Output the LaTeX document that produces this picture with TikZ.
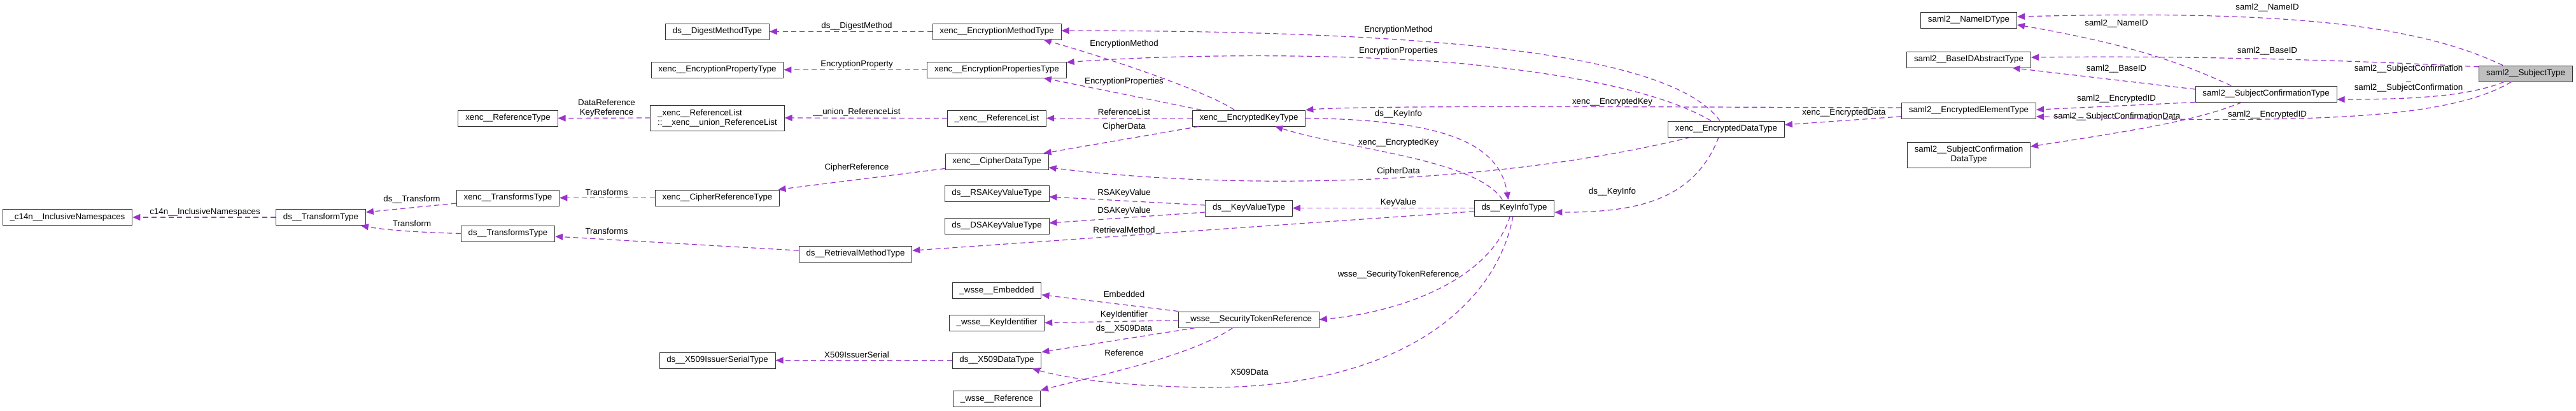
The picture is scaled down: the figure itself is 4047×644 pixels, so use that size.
\documentclass[tikz,border=0pt]{standalone}
\usepackage{fontspec}
\setmainfont{Liberation Sans}
\usetikzlibrary{arrows.meta}
\definecolor{orchid}{HTML}{9A32CD}
\tikzstyle{cls} = [draw=black!80,line width=0.75pt,fill=white,minimum height=18.75pt,inner xsep=8.5pt,inner ysep=1pt,font=\fontsize{10}{11.25}\selectfont]
\tikzstyle{focus} = [cls,fill=black!25]
\tikzstyle{member} = [orchid,line width=0.9pt,dash pattern=on 6pt off 4pt,-{Triangle[length=9pt,width=7.5pt]}]
\tikzstyle{lbl} = [black,font=\fontsize{10}{11.25}\selectfont,inner sep=0pt,align=center]

\begin{document}
\begin{tikzpicture}[x=0.75pt,y=-0.75pt]
            \useasboundingbox (0,0) rectangle (4047,644);
            % classes
            \node[cls] (c14n) at (106,341) {\_c14n\_\_InclusiveNamespaces};
            \node[cls] (dsTransform) at (504,341) {ds\_\_TransformType};
            \node[cls] (xencRefType) at (798,185.5) {xenc\_\_ReferenceType};
            \node[cls] (xencTransforms) at (798,310.5) {xenc\_\_TransformsType};
            \node[cls] (dsTransforms) at (798,366.5) {ds\_\_TransformsType};
            \node[cls] (dsDigest) at (1127,49.5) {ds\_\_DigestMethodType};
            \node[cls] (xencEncProp) at (1127,109.5) {xenc\_\_EncryptionPropertyType};
            \node[cls,align=left,minimum height=30pt] (unionRefList) at (1127,185) {\_xenc\_\_ReferenceList\\::\_\_xenc\_\_union\_ReferenceList};
            \node[cls] (xencCipherRef) at (1127,310.5) {xenc\_\_CipherReferenceType};
            \node[cls] (dsIssuer) at (1127,565.5) {ds\_\_X509IssuerSerialType};
            \node[cls] (xencEncMethod) at (1566,49.5) {xenc\_\_EncryptionMethodType};
            \node[cls] (xencEncProps) at (1566,109.5) {xenc\_\_EncryptionPropertiesType};
            \node[cls] (xencRefList) at (1566,185.5) {\_xenc\_\_ReferenceList};
            \node[cls] (xencCipherData) at (1566,253.5) {xenc\_\_CipherDataType};
            \node[cls] (dsRSA) at (1566,303.5) {ds\_\_RSAKeyValueType};
            \node[cls] (dsDSA) at (1566,354.5) {ds\_\_DSAKeyValueType};
            \node[cls] (dsRetrieval) at (1344,398.5) {ds\_\_RetrievalMethodType};
            \node[cls] (wsseEmbedded) at (1566,456) {\_wsse\_\_Embedded};
            \node[cls] (wsseKeyId) at (1566,506.5) {\_wsse\_\_KeyIdentifier};
            \node[cls] (dsX509) at (1566,565.5) {ds\_\_X509DataType};
            \node[cls] (wsseRef) at (1566,625.5) {\_wsse\_\_Reference};
            \node[cls] (xencEncKey) at (1962,185.5) {xenc\_\_EncryptedKeyType};
            \node[cls] (dsKeyValue) at (1962,326.5) {ds\_\_KeyValueType};
            \node[cls] (wsseSTR) at (1962,501.5) {\_wsse\_\_SecurityTokenReference};
            \node[cls] (dsKeyInfo) at (2379,326.5) {ds\_\_KeyInfoType};
            \node[cls] (xencEncData) at (2712,202.5) {xenc\_\_EncryptedDataType};
            \node[cls] (samlNameID) at (3093,31.5) {saml2\_\_NameIDType};
            \node[cls] (samlBaseID) at (3093,93.5) {saml2\_\_BaseIDAbstractType};
            \node[cls] (samlEncElem) at (3093,173.5) {saml2\_\_EncryptedElementType};
            \node[cls,align=center,minimum height=30pt] (samlSCData) at (3093,243) {saml2\_\_SubjectConfirmation\\DataType};
            \node[cls] (samlSCType) at (3560,147.5) {saml2\_\_SubjectConfirmationType};
            \node[focus] (samlSubject) at (3968,115.5) {saml2\_\_SubjectType};
            % transforms
            \draw[member] (dsTransform.west) -- (c14n.east) node[lbl] (l01) at (322,333) {c14n\_\_InclusiveNamespaces};
            \draw[member] ([yshift=-6.4pt]xencTransforms.west) -- ([yshift=6pt]dsTransform.east) node[lbl] (l02) at (647,313) {ds\_\_Transform};
            \draw[member] (dsTransforms.west) .. controls (640,364) and (600,360) .. ([xshift=-6pt]dsTransform.south east) node[lbl] (l03) at (647,351) {Transform};
            \draw[member] (xencCipherRef.west) -- (xencTransforms.east) node[lbl] (l04) at (953,302) {Transforms};
            \draw[member] ([yshift=4pt]dsRetrieval.west) -- ([yshift=-3.4pt]dsTransforms.east) node[lbl] (l05) at (953,363) {Transforms};
            % reference lists
            \draw[member] (xencRefList.west) -- (unionRefList.east) node[lbl] (l06) at (1346,176) {\_\_union\_ReferenceList};
            \draw[member] (unionRefList.west) -- (xencRefType.east) node[lbl] (l07) at (953,170) {DataReference\\KeyReference};
            \draw[member] (xencEncMethod.west) -- (dsDigest.east) node[lbl] (l08) at (1346,41) {ds\_\_DigestMethod};
            \draw[member] (xencEncProps.west) -- (xencEncProp.east) node[lbl] (l09) at (1346,101) {EncryptionProperty};
            \draw[member] ([yshift=1.5pt]xencCipherData.south west) -- ([xshift=-2pt]xencCipherRef.north east) node[lbl] (l10) at (1346,263) {CipherReference};
            \draw[member] (dsX509.west) -- (dsIssuer.east) node[lbl] (l11) at (1346,557) {X509IssuerSerial};
            % encrypted key
            \draw[member] ([xshift=-17pt]xencEncKey.north) .. controls (1890,140) and (1720,85) .. ([xshift=-21pt]xencEncMethod.south east) node[lbl] (l12) at (1766,69) {EncryptionMethod};
            \draw[member] ([xshift=-56pt]xencEncKey.north) -- ([xshift=-27pt]xencEncProps.south east) node[lbl] (l13) at (1766,128) {EncryptionProperties};
            \draw[member] (xencEncKey.west) -- (xencRefList.east) node[lbl] (l14) at (1766,176) {ReferenceList};
            \draw[member] ([xshift=-59pt]xencEncKey.south) -- ([xshift=-6pt]xencCipherData.north east) node[lbl] (l15) at (1766,199) {CipherData};
            \draw[member] (xencEncKey.east) .. controls (2270,188) and (2355,225) .. ([xshift=-7pt]dsKeyInfo.north) node[lbl] (l16) at (2197,179) {ds\_\_KeyInfo};
            \draw[member] ([xshift=-14pt]dsKeyInfo.north) .. controls (2320,250) and (2120,235) .. ([xshift=31pt]xencEncKey.south) node[lbl] (l17) at (2197,224) {xenc\_\_EncryptedKey};
            % encrypted data
            \draw[member] ([yshift=3.4pt]samlEncElem.west) .. controls (2600,168) and (2150,165) .. (xencEncKey.north east) node[lbl] (l18) at (2533,160) {xenc\_\_EncryptedKey};
            \draw[member] ([yshift=-7pt]samlEncElem.west) -- ([yshift=5pt]xencEncData.east) node[lbl] (l19) at (2897,177) {xenc\_\_EncryptedData};
            \draw[member] ([xshift=-7.5pt]xencEncData.north) .. controls (2630,90) and (2300,48) .. ([yshift=1pt]xencEncMethod.east) node[lbl] (l20) at (2197,47) {EncryptionMethod};
            \draw[member] ([xshift=-18pt]xencEncData.north) .. controls (2620,150) and (2500,120) .. (2300,100) .. controls (2100,83) and (1850,85) .. ([yshift=-1pt]xencEncProps.north east) node[lbl] (l21) at (2197,80) {EncryptionProperties};
            \draw[member] ([xshift=-42pt]xencEncData.south) .. controls (2350,290) and (1950,300) .. ([yshift=-7pt]xencCipherData.east) node[lbl] (l22) at (2197,269) {CipherData};
            \draw[member] ([xshift=-9pt]xencEncData.south) .. controls (2660,320) and (2560,333) .. ([yshift=-5pt]dsKeyInfo.east) node[lbl] (l23) at (2533,301) {ds\_\_KeyInfo};
            % key info
            \draw[member] (dsKeyInfo.west) -- (dsKeyValue.east) node[lbl] (l24) at (2197,318) {KeyValue};
            \draw[member] ([yshift=3.4pt]dsKeyValue.west) -- ([yshift=-4pt]dsRSA.east) node[lbl] (l25) at (1766,303) {RSAKeyValue};
            \draw[member] ([yshift=-4.9pt]dsKeyValue.west) -- ([yshift=3.4pt]dsDSA.east) node[lbl] (l26) at (1766,331) {DSAKeyValue};
            \draw[member] ([yshift=-4pt]dsKeyInfo.west) -- ([yshift=4pt]dsRetrieval.east) node[lbl] (l27) at (1766,361) {RetrievalMethod};
            \draw[member] ([xshift=-5pt]dsKeyInfo.south) .. controls (2340,440) and (2200,490) .. (wsseSTR.east) node[lbl] (l28) at (2197,431) {wsse\_\_SecurityTokenReference};
            \draw[member] ([xshift=-1.5pt]dsKeyInfo.south) .. controls (2350,480) and (2200,610) .. (1890,608) .. controls (1770,606) and (1680,595) .. ([xshift=-11pt]dsX509.south east) node[lbl] (l29) at (1963,584) {X509Data};
            % security token reference
            \draw[member] (wsseSTR.north west) -- ([yshift=-5pt]wsseEmbedded.east) node[lbl] (l30) at (1766,462) {Embedded};
            \draw[member] ([yshift=-1pt]wsseSTR.west) -- (wsseKeyId.east) node[lbl] (l31) at (1766,494) {KeyIdentifier};
            \draw[member] ([xshift=-63pt]wsseSTR.south) -- (dsX509.north east) node[lbl] (l32) at (1766,516) {ds\_\_X509Data};
            \draw[member] ([xshift=-19pt]wsseSTR.south) .. controls (1870,560) and (1720,590) .. (wsseRef.north east) node[lbl] (l33) at (1766,554) {Reference};
            % subject
            \draw[member] ([xshift=-27pt]samlSubject.north) .. controls (3800,40) and (3600,15) .. ([yshift=4pt]samlNameID.east) node[lbl] (l34) at (3562,12) {saml2\_\_NameID};
            \draw[member] ([xshift=-41pt]samlSCType.north) .. controls (3430,100) and (3350,70) .. ([yshift=-5.6pt]samlNameID.east) node[lbl] (l35) at (3325,37) {saml2\_\_NameID};
            \draw[member] ([yshift=8pt]samlSubject.west) .. controls (3700,95) and (3450,87) .. ([yshift=2.6pt]samlBaseID.east) node[lbl] (l36) at (3562,80) {saml2\_\_BaseID};
            \draw[member] ([yshift=5.6pt]samlSCType.west) -- ([xshift=-22pt]samlBaseID.south east) node[lbl] (l37) at (3325,108) {saml2\_\_BaseID};
            \draw[member] ([xshift=-25.5pt]samlSubject.south) .. controls (3880,150) and (3800,156) .. ([yshift=-6.4pt]samlSCType.east) node[lbl] (l38) at (3784,123) {saml2\_\_SubjectConfirmation\\\_\\saml2\_\_SubjectConfirmation};
            \draw[member] ([xshift=-17pt]samlSubject.south) .. controls (3850,185) and (3650,195) .. ([yshift=-7pt]samlEncElem.east) node[lbl] (l39) at (3562,180) {saml2\_\_EncryptedID};
            \draw[member] (samlSCType.south west) -- ([yshift=1pt]samlEncElem.east) node[lbl] (l40) at (3325,155) {saml2\_\_EncryptedID};
            \draw[member] ([xshift=-28.5pt]samlSCType.south) .. controls (3450,190) and (3350,205) .. ([yshift=9.75pt]samlSCData.east) node[lbl] (l41) at (3326,183) {saml2\_\_SubjectConfirmationData};
        \end{tikzpicture}
\end{document}
